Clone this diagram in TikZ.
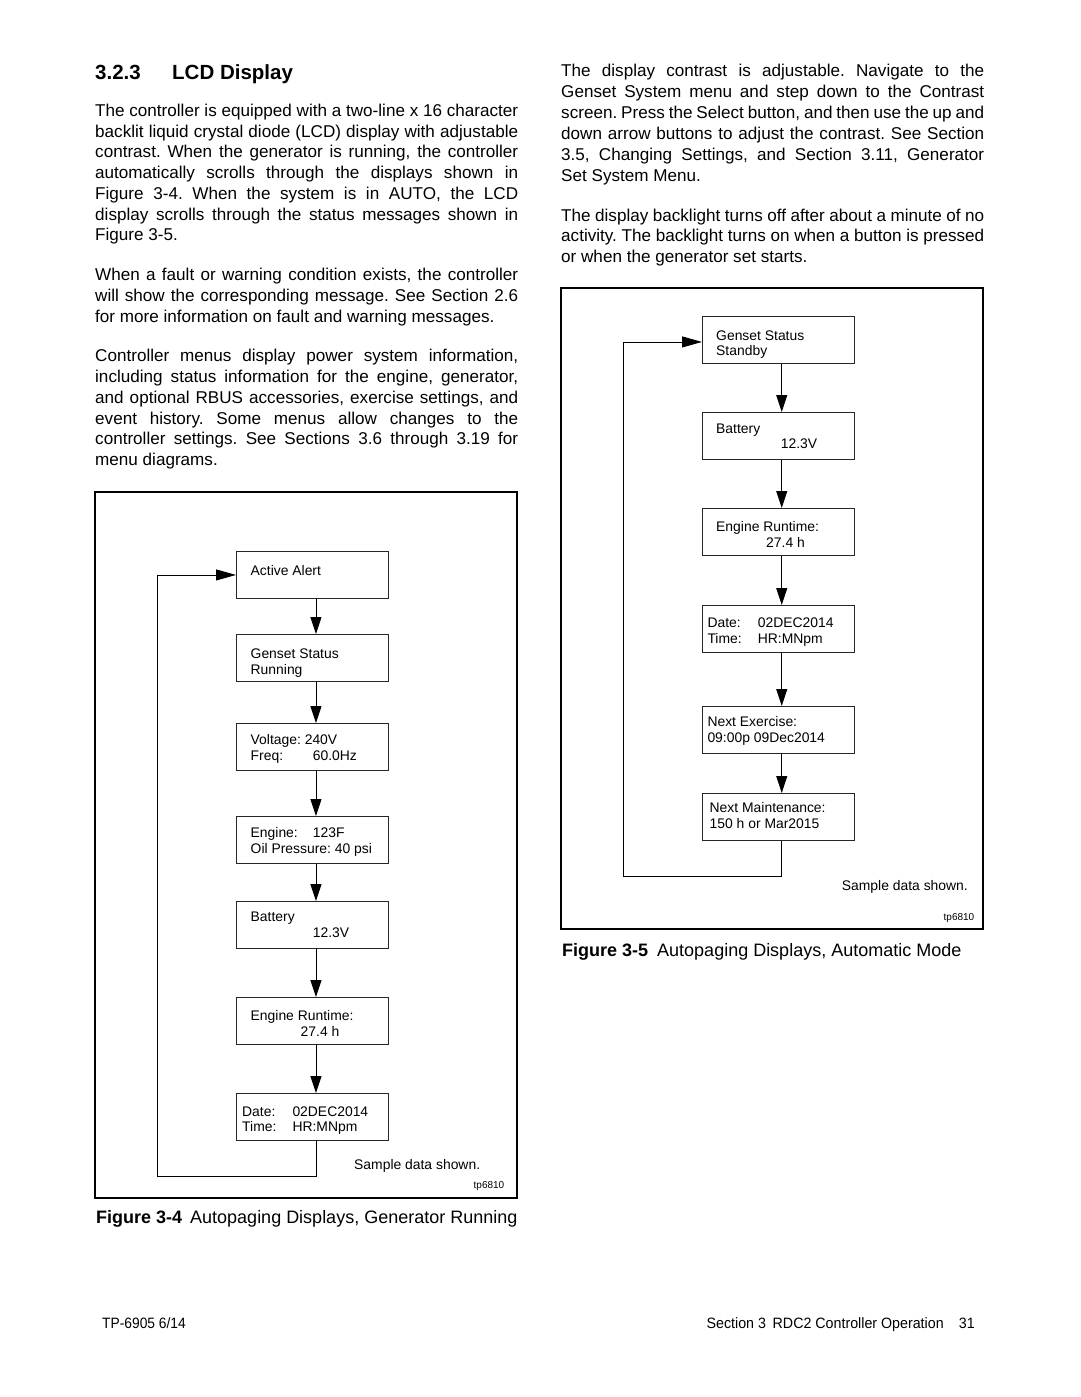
\documentclass[tikz,border=0pt]{standalone}
\usepackage{fontspec}
\setmainfont{Liberation Sans}
\usetikzlibrary{arrows.meta}
\newcommand\jst[1]{\makebox[423pt][s]{#1}}
\frenchspacing
\begin{document}
\frenchspacing
\begin{tikzpicture}[x=1pt,y=-1pt,
  body/.style={inner sep=0pt, anchor=base west, font=\fontsize{17.1}{20}\selectfont},
  bodyb/.style={inner sep=0pt, anchor=base west, font=\fontsize{18}{20}\selectfont\bfseries},
  capt/.style={inner sep=0pt, anchor=base west, font=\fontsize{18}{20}\selectfont},
  head/.style={inner sep=0pt, anchor=base west, font=\fontsize{20.5}{24}\selectfont\bfseries},
  small/.style={inner sep=0pt, anchor=base west, font=\fontsize{13.9}{16}\selectfont},
  tiny/.style={inner sep=0pt, anchor=base west, font=\fontsize{10}{12}\selectfont},
  foot/.style={inner sep=0pt, anchor=base west, font=\fontsize{15}{18}\selectfont},
  lcd/.style={draw=black!85, line width=0.9pt, minimum width=152pt, minimum height=47pt, inner sep=0pt, anchor=north west},
  frame/.style={draw=black, line width=1.8pt},
  flow/.style={draw=black, line width=0.9pt, -{Triangle[length=17pt,width=11pt]}},
  loop/.style={draw=black, line width=0.9pt, -{Triangle[length=20pt,width=11pt]}}
]
\useasboundingbox[fill=white] (0,0) rectangle (1080,1397);

% ---------- heading and left text ----------
\node[head] (h1) at (95,80) {3.2.3};
\node[head] (h2) at (172,80) {LCD Display};

\node[body] (l1) at (95,116.3) {\jst{The controller is equipped with a two-line x 16 character}};
\node[body] (l2) at (95,137.0) {\jst{backlit liquid crystal diode (LCD) display with adjustable}};
\node[body] (l3) at (95,157.8) {\jst{contrast. When the generator is running, the controller}};
\node[body] (l4) at (95,178.5) {\jst{automatically scrolls through the displays shown in}};
\node[body] (l5) at (95,199.2) {\jst{Figure 3-4. When the system is in AUTO, the LCD}};
\node[body] (l6) at (95,220.0) {\jst{display scrolls through the status messages shown in}};
\node[body] (l7) at (95,240.7) {Figure 3-5.};

\node[body] (m1) at (95,280.5) {\jst{When a fault or warning condition exists, the controller}};
\node[body] (m2) at (95,301.3) {\jst{will show the corresponding message. See Section 2.6}};
\node[body] (m3) at (95,322.1) {for more information on fault and warning messages.};

\node[body] (n1) at (95,361.7) {\jst{Controller menus display power system information,}};
\node[body] (n2) at (95,382.5) {\jst{including status information for the engine, generator,}};
\node[body] (n3) at (95,403.3) {\jst{and optional RBUS accessories, exercise settings, and}};
\node[body] (n4) at (95,424.1) {\jst{event history. Some menus allow changes to the}};
\node[body] (n5) at (95,444.9) {\jst{controller settings. See Sections 3.6 through 3.19 for}};
\node[body] (n6) at (95,465.7) {menu diagrams.};

% ---------- right text ----------
\node[body] (r1) at (561,77.0) {\jst{The display contrast is adjustable. Navigate to the}};
\node[body] (r2) at (561,97.8) {\jst{Genset System menu and step down to the Contrast}};
\node[body] (r3) at (561,118.6) {\jst{screen. Press the Select button, and then use the up and}};
\node[body] (r4) at (561,139.4) {\jst{down arrow buttons to adjust the contrast. See Section}};
\node[body] (r5) at (561,160.2) {\jst{3.5, Changing Settings, and Section 3.11, Generator}};
\node[body] (r6) at (561,181.0) {Set System Menu.};

\node[body] (s1) at (561,221.0) {\jst{The display backlight turns off after about a minute of no}};
\node[body] (s2) at (561,241.8) {\jst{activity. The backlight turns on when a button is pressed}};
\node[body] (s3) at (561,262.6) {or when the generator set starts.};

% ---------- Figure 3-4 ----------
\draw[frame] (95,492) rectangle (517,1198);
\node[lcd] (a1) at (236,551) {};
\node[lcd] (a2) at (236,634) {};
\node[lcd] (a3) at (236,723) {};
\node[lcd] (a4) at (236,816) {};
\node[lcd] (a5) at (236,901) {};
\node[lcd] (a6) at (236,997) {};
\node[lcd] (a7) at (236,1093) {};

\node[small] (a1t) at (250.5,575) {Active Alert};
\node[small] (a2t) at (250.5,658.5) {Genset Status};
\node[small] (a2u) at (250.5,674) {Running};
\node[small] (a3t) at (250.5,744) {Voltage: 240V};
\node[small] (a3u) at (250.5,760) {Freq:};
\node[small] (a3v) at (312.7,760) {60.0Hz};
\node[small] (a4t) at (250.5,837.3) {Engine:};
\node[small] (a4v) at (312.7,837.3) {123F};
\node[small] (a4u) at (250.5,853.3) {Oil Pressure: 40 psi};
\node[small] (a5t) at (250.5,921) {Battery};
\node[small] (a5u) at (312.7,937) {12.3V};
\node[small] (a6t) at (250.5,1020) {Engine Runtime:};
\node[small] (a6u) at (300.5,1036) {27.4 h};
\node[small] (a7t) at (242,1116) {Date:};
\node[small] (a7v) at (292.3,1116) {02DEC2014};
\node[small] (a7u) at (242,1131.5) {Time:};
\node[small] (a7w) at (292.3,1131.5) {HR:MNpm};

\foreach \p/\q in {a1/a2,a2/a3,a3/a4,a4/a5,a5/a6,a6/a7}
  \draw[flow] ([xshift=3.5pt]\p.south) -- ([xshift=3.5pt]\q.north);
\coordinate (lcorner) at (157.5,1176.7);
\draw[loop] ([xshift=3.5pt]a7.south) |- (lcorner) |- (a1.west);

\node[small] (lsd) at (354,1169.5) {Sample data shown.};
\node[tiny] (ltp) at (473.5,1188) {tp6810};

\node[bodyb] (lc1) at (96,1223.5) {Figure 3-4};
\node[capt] (lc2) at (190,1223.5) {Autopaging Displays, Generator Running};

% ---------- Figure 3-5 ----------
\draw[frame] (561,288) rectangle (983,929);
\node[lcd] (b1) at (702,316) {};
\node[lcd] (b2) at (702,412) {};
\node[lcd] (b3) at (702,508) {};
\node[lcd] (b4) at (702,605) {};
\node[lcd] (b5) at (702,706) {};
\node[lcd] (b6) at (702,793) {};

\node[small] (b1t) at (716,340) {Genset Status};
\node[small] (b1u) at (716,355.5) {Standby};
\node[small] (b2t) at (716,433.3) {Battery};
\node[small] (b2u) at (780.7,448.8) {12.3V};
\node[small] (b3t) at (716,531.7) {Engine Runtime:};
\node[small] (b3u) at (766,547) {27.4 h};
\node[small] (b4t) at (707.3,627.8) {Date:};
\node[small] (b4v) at (757.7,627.8) {02DEC2014};
\node[small] (b4u) at (707.3,643.3) {Time:};
\node[small] (b4w) at (757.7,643.3) {HR:MNpm};
\node[small] (b5t) at (707.3,726.7) {Next Exercise:};
\node[small] (b5u) at (707.3,742.2) {09:00p 09Dec2014};
\node[small] (b6t) at (709.5,812) {Next Maintenance:};
\node[small] (b6u) at (709.5,828) {150 h or Mar2015};

\foreach \p/\q in {b1/b2,b2/b3,b3/b4,b4/b5,b5/b6}
  \draw[flow] ([xshift=3.3pt]\p.south) -- ([xshift=3.3pt]\q.north);
\coordinate (rcorner) at (623,876);
\draw[loop] ([xshift=3.3pt]b6.south) |- (rcorner) |- ([yshift=-2pt]b1.west);

\node[small] (rsd) at (841.7,890) {Sample data shown.};
\node[tiny] (rtp) at (943.5,920) {tp6810};

\node[bodyb] (rc1) at (562,956.7) {Figure 3-5};
\node[capt] (rc2) at (657,956.7) {Autopaging Displays, Automatic Mode};

% ---------- footer ----------
\node[foot] (f1) at (102,1328) {\scalebox{0.92}[1]{TP-6905 6/14}};
\node[foot, anchor=base east] (f2) at (975,1328) {\scalebox{0.95}[1]{Section 3\hspace{7pt}RDC2 Controller Operation\hspace{16pt}31}};
\end{tikzpicture}
\end{document}
